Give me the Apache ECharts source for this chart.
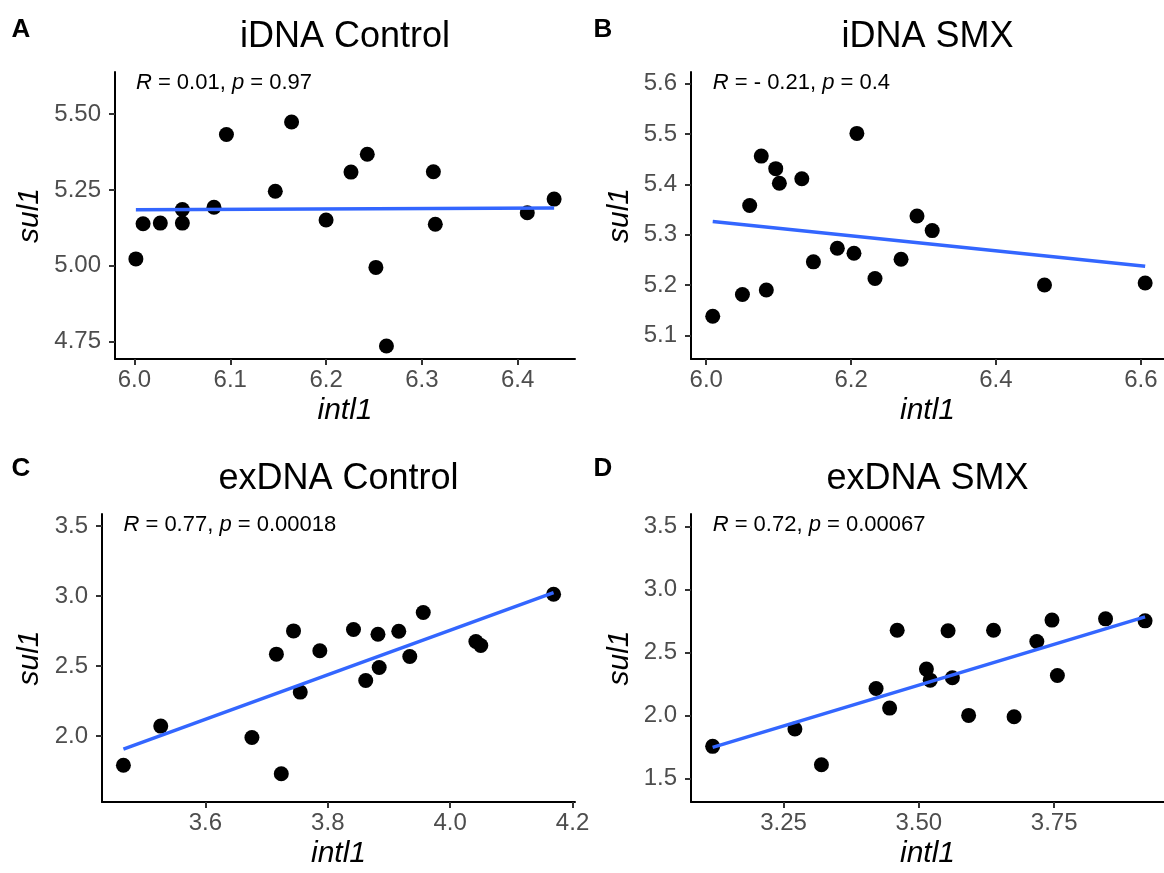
<!DOCTYPE html>
<html>
<head>
<meta charset="utf-8">
<script src="https://cdn.jsdelivr.net/npm/echarts@6/dist/echarts.min.js"></script>
<style>html,body{margin:0;padding:0;background:#fff}#main{width:1164px;height:873px}</style>
</head>
<body>
<div id="main"></div>
<script>
// panel A - iDNA Control
var aX = [6.0015, 6.009, 6.027, 6.050, 6.050, 6.083, 6.096, 6.147, 6.164, 6.200, 6.226, 6.243, 6.252, 6.263, 6.312, 6.314, 6.410, 6.438];
var aY = [5.023, 5.139, 5.141, 5.141, 5.186, 5.193, 5.433, 5.246, 5.474, 5.151, 5.309, 5.368, 4.995, 4.736, 5.310, 5.137, 5.175, 5.220];
var aFitX = [6.0015, 6.438];
var aFitY = [5.185, 5.191];
// panel B - iDNA SMX
var bX = [6.009, 6.050, 6.083, 6.060, 6.076, 6.096, 6.101, 6.132, 6.148, 6.181, 6.204, 6.208, 6.233, 6.269, 6.291, 6.312, 6.467, 6.606];
var bY = [5.138, 5.181, 5.190, 5.358, 5.456, 5.431, 5.402, 5.411, 5.246, 5.273, 5.263, 5.501, 5.213, 5.251, 5.337, 5.308, 5.200, 5.204];
var bFitX = [6.009, 6.606];
var bFitY = [5.326, 5.237];
// panel C - exDNA Control
var cX = [3.466, 3.527, 3.676, 3.716, 3.724, 3.744, 3.755, 3.787, 3.842, 3.862, 3.882, 3.884, 3.916, 3.934, 3.956, 4.042, 4.050, 4.169];
var cY = [1.791, 2.071, 1.990, 2.585, 1.731, 2.751, 2.314, 2.609, 2.761, 2.397, 2.727, 2.490, 2.749, 2.568, 2.882, 2.675, 2.647, 3.013];
var cFitX = [3.466, 4.169];
var cFitY = [1.907, 3.025];
// panel D - exDNA SMX
var dX = [3.119, 3.271, 3.320, 3.421, 3.446, 3.460, 3.514, 3.521, 3.554, 3.562, 3.592, 3.638, 3.676, 3.718, 3.746, 3.756, 3.845, 3.918];
var dY = [1.754, 1.892, 1.608, 2.214, 2.058, 2.677, 2.368, 2.280, 2.672, 2.299, 2.000, 2.677, 1.989, 2.587, 2.757, 2.317, 2.767, 2.751];
var dFitX = [3.119, 3.918];
var dFitY = [1.746, 2.783];

var titles = ['iDNA Control', 'iDNA SMX', 'exDNA Control', 'exDNA SMX'];
var tags = ['A', 'B', 'C', 'D'];
var corText = ['{i|R} = 0.01, {i|p} = 0.97', '{i|R} = - 0.21, {i|p} = 0.4', '{i|R} = 0.77, {i|p} = 0.00018', '{i|R} = 0.72, {i|p} = 0.00067'];

var xTicks = [[6.0, 6.1, 6.2, 6.3, 6.4], [6.0, 6.2, 6.4, 6.6], [3.6, 3.8, 4.0, 4.2], [3.25, 3.50, 3.75]];
var yTicks = [[4.75, 5.00, 5.25, 5.50], [5.1, 5.2, 5.3, 5.4, 5.5, 5.6], [2.0, 2.5, 3.0, 3.5], [1.5, 2.0, 2.5, 3.0, 3.5]];
var xDigits = [1, 1, 1, 2];
var yDigits = [2, 1, 1, 1];
var xRange = [[5.9797, 6.4598], [5.979, 6.632], [3.431, 4.204], [3.079, 3.953]];
var yRange = [[4.693, 5.639], [5.053, 5.623], [1.529, 3.586], [1.312, 3.600]];

var pts = [[aX, aY], [bX, bY], [cX, cY], [dX, dY]];
var fits = [[aFitX, aFitY], [bFitX, bFitY], [cFitX, cFitY], [dFitX, dFitY]];

var FONT = '"Liberation Sans", Arial, Helvetica, sans-serif';
var grids = [
    {left: 115, top: 72, width: 460, height: 287},
    {left: 691, top: 72, width: 473, height: 287},
    {left: 102, top: 514, width: 473, height: 288},
    {left: 691, top: 514, width: 473, height: 288}
];
var yNameGap = [70, 56, 57, 56];

function zip(xs, ys) {
    var out = [];
    for (var k = 0; k < xs.length; k++) out.push([xs[k], ys[k]]);
    return out;
}

function axisBase(i, ticks, digits, range) {
    return {
        gridIndex: i, type: 'value', min: range[0], max: range[1],
        axisLine: {show: true, onZero: false, lineStyle: {color: '#000', width: 2}},
        axisTick: {show: true, length: 6, customValues: ticks, lineStyle: {color: '#333', width: 2}},
        axisLabel: {customValues: ticks, color: '#4D4D4D', fontSize: 24, fontFamily: FONT,
            formatter: function (v) { return v.toFixed(digits); }},
        splitLine: {show: false},
        nameLocation: 'middle',
        nameTextStyle: {fontStyle: 'italic', fontSize: 30, color: '#000', fontFamily: FONT}
    };
}

var xAxes = [], yAxes = [], series = [], graphic = [];
for (var i = 0; i < 4; i++) {
    var xa = axisBase(i, xTicks[i], xDigits[i], xRange[i]);
    xa.name = 'intl1'; xa.nameGap = 37; xa.axisLabel.margin = 9;
    xAxes.push(xa);
    var ya = axisBase(i, yTicks[i], yDigits[i], yRange[i]);
    ya.name = 'sul1'; ya.nameGap = yNameGap[i]; ya.axisLabel.margin = 14;
    yAxes.push(ya);

    series.push({
        type: 'scatter', xAxisIndex: i, yAxisIndex: i, data: zip(pts[i][0], pts[i][1]),
        symbolSize: 15, itemStyle: {color: '#000', opacity: 1}, z: 2
    });
    series.push({
        type: 'line', xAxisIndex: i, yAxisIndex: i, data: zip(fits[i][0], fits[i][1]),
        symbol: 'none', lineStyle: {color: '#3366FF', width: 3.5}, z: 3
    });

    var g = grids[i];
    graphic.push({type: 'text', x: g.left + g.width / 2, y: g.top - 35,
        style: {text: titles[i], fontSize: 36, fontFamily: FONT, fill: '#000', align: 'center', verticalAlign: 'middle'}});
    graphic.push({type: 'text', x: i % 2 === 0 ? 21 : 603, y: i < 2 ? 30 : 469,
        style: {text: tags[i], fontSize: 26, fontWeight: 'bold', fontFamily: FONT, fill: '#000', align: 'center', verticalAlign: 'middle'}});
}

var chart = echarts.init(document.getElementById('main'));
chart.setOption({
    animation: false,
    backgroundColor: '#fff',
    grid: grids,
    xAxis: xAxes,
    yAxis: yAxes,
    series: series,
    graphic: graphic
});

// correlation labels sit at the smallest x of each panel, near the top
for (var j = 0; j < 4; j++) {
    var px = chart.convertToPixel({xAxisIndex: j}, Math.min.apply(null, pts[j][0]));
    graphic.push({type: 'text', x: px, y: grids[j].top + 11,
        style: {text: corText[j], fontSize: 22, fontFamily: FONT, fill: '#000', align: 'left', verticalAlign: 'middle',
            rich: {i: {fontStyle: 'italic', fontSize: 22, fontFamily: FONT}}}});
}
chart.setOption({graphic: graphic});
</script>
</body>
</html>
